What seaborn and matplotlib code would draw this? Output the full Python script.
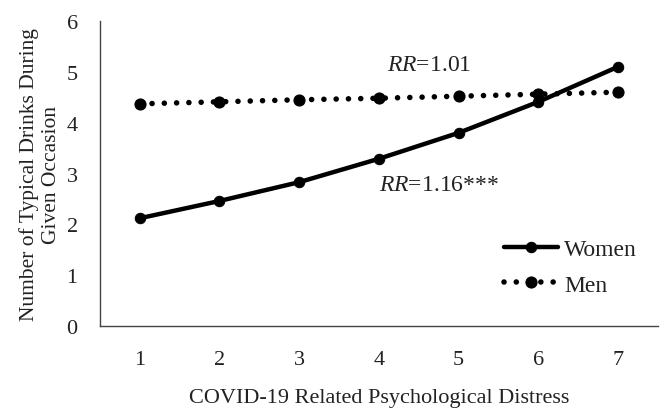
import matplotlib
matplotlib.use('Agg')
import matplotlib.pyplot as plt
import pandas as pd
import seaborn as sns


# values
distress = [1, 2, 3, 4, 5, 6, 7]
women = [2.12, 2.46, 2.83, 3.29, 3.80, 4.41, 5.10]
men = [4.37, 4.41, 4.45, 4.48, 4.52, 4.56, 4.60]
y_ticks = [0, 1, 2, 3, 4, 5, 6]

df = pd.DataFrame({
    'distress': distress * 2,
    'drinks': women + men,
    'sex': ['Women'] * len(women) + ['Men'] * len(men),
})

sns.set_style('white')
plt.rcParams['font.family'] = ['Liberation Serif', 'DejaVu Serif']
plt.rcParams['mathtext.fontset'] = 'custom'
plt.rcParams['mathtext.rm'] = 'Liberation Serif'
plt.rcParams['mathtext.it'] = 'Liberation Serif:italic'

fig = plt.figure(figsize=(6.66, 4.14), dpi=100)
ax = fig.add_axes([0.150, 0.210, 0.838, 0.737])

# women: solid thick line
sns.lineplot(data=df[df.sex == 'Women'], x='distress', y='drinks', ax=ax,
             color='black', linewidth=3.2, marker='o', markersize=7.5,
             markeredgecolor='black', label='Women')
# men: round dotted line
sns.lineplot(data=df[df.sex == 'Men'], x='distress', y='drinks', ax=ax,
             color='black', linewidth=4.0, marker='o', markersize=8,
             markeredgecolor='black', label='Men',
             linestyle=(0, (0.01, 2.2)), dash_capstyle='round')

ax.set_xlim(0.5, 7.5)
ax.set_ylim(0, 6)
ax.set_xticks(distress)
ax.set_yticks(y_ticks)
ax.tick_params(axis='both', length=0, labelsize=16, colors='#222222')
ax.tick_params(axis='x', pad=17)
ax.tick_params(axis='y', pad=16)

for side in ['top', 'right']:
    ax.spines[side].set_visible(False)
for side in ['left', 'bottom']:
    ax.spines[side].set_color('#444444')
    ax.spines[side].set_linewidth(1.0)

ax.set_xlabel('COVID-19 Related Psychological Distress', fontsize=16,
              color='#222222', labelpad=14)
ax.set_ylabel('Number of Typical Drinks During\nGiven Occasion', fontsize=15.5,
              color='#222222', labelpad=4, linespacing=1.2)

ax.text(4.63, 5.15, r'$\it{RR}$=1.01', fontsize=17, ha='center', va='center',
        color='#222222')
ax.text(4.75, 2.79, r'$\it{RR}$=1.16***', fontsize=17, ha='center', va='center',
        color='#222222')

ax.legend(loc='lower right', bbox_to_anchor=(1.0, 0.03), frameon=False,
          fontsize=17, handlelength=2.3, handletextpad=0.25, labelspacing=0.6,
          labelcolor='#222222')

fig.savefig('out.png', dpi=100)
